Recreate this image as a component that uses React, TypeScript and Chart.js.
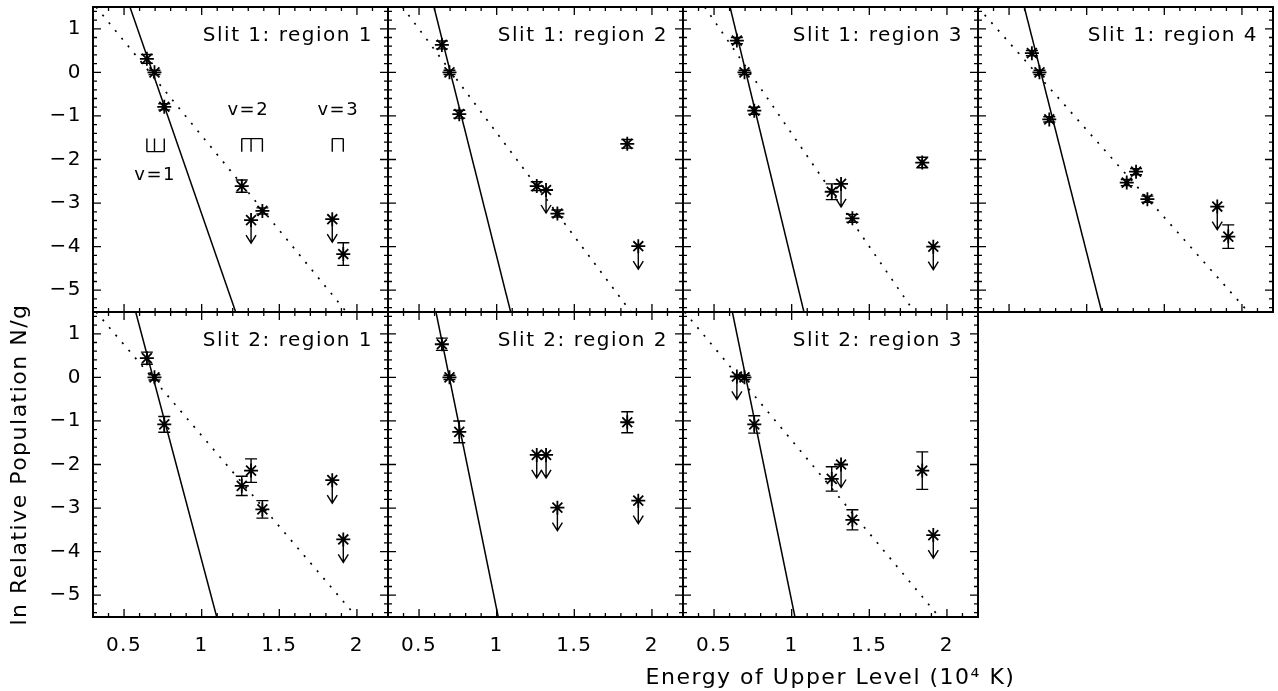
import React, { useEffect, useRef } from "react";
import { Chart, registerables } from "chart.js";

Chart.register(...registerables);
Chart.defaults.font.family = "'DejaVu Sans', sans-serif";
Chart.defaults.color = "#000";

// ---------- data ----------
// upper-level energies of the H2 lines (10^4 K)
const ENERGY = [0.647, 0.696, 0.759, 1.258, 1.318, 1.391, 1.841, 1.912];

const X_TICKS = [0.5, 1, 1.5, 2];
const Y_TICKS = [-5, -4, -3, -2, -1, 0, 1];
const X_MIN = 0.3;
const X_MAX = 2.2;
const Y_MIN = -5.5;
const Y_MAX = 1.5;

const PANEL_TITLES = [
  "Slit 1: region 1",
  "Slit 1: region 2",
  "Slit 1: region 3",
  "Slit 1: region 4",
  "Slit 2: region 1",
  "Slit 2: region 2",
  "Slit 2: region 3",
];

const X_TITLE = "Energy of Upper Level (10\u2074 K)";
const Y_TITLE = "ln Relative Population N/g";

// Slit 1 region 1
const LNPOP_S1R1 = [0.31, 0.0, -0.79, -2.61, -3.39, -3.18, -3.37, -4.17];
const ERR_S1R1 = [0.1, 0.05, 0.07, 0.14, 0, 0.07, 0, 0.26];
const UPLIM_S1R1 = [0, 0, 0, 0, 1, 0, 1, 0];
const SOLID_S1R1 = [{ x: 0.538, y: 1.5 }, { x: 1.219, y: -5.5 }];
const DOTTED_S1R1 = [{ x: 0.32, y: 1.5 }, { x: 1.932, y: -5.5 }];

// Slit 1 region 2
const LNPOP_S1R2 = [0.63, 0.0, -0.96, -2.61, -2.7, -3.24, -1.64, -3.99];
const ERR_S1R2 = [0.09, 0.05, 0.09, 0.1, 0, 0.08, 0.1, 0];
const UPLIM_S1R2 = [0, 0, 0, 0, 1, 0, 0, 1];
const SOLID_S1R2 = [{ x: 0.596, y: 1.5 }, { x: 1.09, y: -5.5 }];
const DOTTED_S1R2 = [{ x: 0.393, y: 1.5 }, { x: 1.865, y: -5.5 }];

// Slit 1 region 3
const LNPOP_S1R3 = [0.73, 0.0, -0.88, -2.74, -2.56, -3.35, -2.07, -4.0];
const ERR_S1R3 = [0.07, 0.05, 0.08, 0.18, 0, 0.09, 0.12, 0];
const UPLIM_S1R3 = [0, 0, 0, 0, 1, 0, 0, 1];
const SOLID_S1R3 = [{ x: 0.603, y: 1.5 }, { x: 1.079, y: -5.5 }];
const DOTTED_S1R3 = [{ x: 0.44, y: 1.5 }, { x: 1.79, y: -5.5 }];

// Slit 1 region 4
const LNPOP_S1R4 = [0.44, 0.0, -1.08, -2.53, -2.28, -2.91, -3.08, -3.77];
const ERR_S1R4 = [0.06, 0.05, 0.06, 0.07, 0.07, 0.07, 0, 0.27];
const UPLIM_S1R4 = [0, 0, 0, 0, 0, 0, 1, 0];
const SOLID_S1R4 = [{ x: 0.598, y: 1.5 }, { x: 1.097, y: -5.5 }];
const DOTTED_S1R4 = [{ x: 0.3, y: 1.49 }, { x: 2.041, y: -5.5 }];

// Slit 2 region 1
const LNPOP_S2R1 = [0.44, 0.0, -1.08, -2.49, -2.14, -3.03, -2.36, -3.72];
const ERR_S2R1 = [0.14, 0.06, 0.18, 0.22, 0.27, 0.2, 0, 0];
const UPLIM_S2R1 = [0, 0, 0, 0, 0, 0, 1, 1];
const SOLID_S2R1 = [{ x: 0.575, y: 1.5 }, { x: 1.097, y: -5.5 }];
const DOTTED_S2R1 = [{ x: 0.32, y: 1.5 }, { x: 1.998, y: -5.5 }];

// Slit 2 region 2
const LNPOP_S2R2 = [0.76, 0.0, -1.25, -1.78, -1.78, -2.99, -1.03, -2.83];
const ERR_S2R2 = [0.14, 0.05, 0.25, 0, 0, 0, 0.24, 0];
const UPLIM_S2R2 = [0, 0, 0, 1, 1, 1, 0, 1];
const SOLID_S2R2 = [{ x: 0.609, y: 1.5 }, { x: 1.01, y: -5.5 }];

// Slit 2 region 3
const LNPOP_S2R3 = [0.02, 0.0, -1.08, -2.33, -2.0, -3.27, -2.14, -3.62];
const ERR_S2R3 = [0, 0.05, 0.2, 0.28, 0, 0.23, 0.43, 0];
const UPLIM_S2R3 = [1, 0, 0, 0, 1, 0, 0, 1];
const SOLID_S2R3 = [{ x: 0.618, y: 1.5 }, { x: 1.021, y: -5.5 }];
const DOTTED_S2R3 = [{ x: 0.31, y: 1.5 }, { x: 1.95, y: -5.5 }];

// vibrational-level annotations (first panel)
const VIB_LABELS = ["v=1", "v=2", "v=3"];
const VIB_LABEL_X = [0.7, 1.3, 1.88];
const VIB_LABEL_Y = [-2.36, -0.86, -0.86];
const VIB_GROUPS = [[0, 1, 2], [3, 4, 5], [6, 7]];
const BRACKET_BASE = [-1.82, -1.52, -1.52];
const BRACKET_TIP = [-1.52, -1.82, -1.82];

// ---------- layout / style ----------
const CANVAS_W = 1278;
const CANVAS_H = 691;
const GRID_LEFT = 93;
const GRID_TOP = 7;
const PANEL_W = 295;
const PANEL_H = 305;
const Y_AXIS_W = 93;
const X_AXIS_H = 74;
const CAP = 6;
const ARROW_LEN = 23;
const ARROW_HALF = 5;
const ARROW_HEAD = 8;
const TEXT_SPACING = "1.5px";

type Pt = { x: number; y: number };
type PanelCfg = {
  title: string;
  y: number[];
  err: number[];
  lim: number[];
  solid: Pt[];
  dotted: Pt[] | null;
};

const PANELS: PanelCfg[] = [
  { title: PANEL_TITLES[0], y: LNPOP_S1R1, err: ERR_S1R1, lim: UPLIM_S1R1, solid: SOLID_S1R1, dotted: DOTTED_S1R1 },
  { title: PANEL_TITLES[1], y: LNPOP_S1R2, err: ERR_S1R2, lim: UPLIM_S1R2, solid: SOLID_S1R2, dotted: DOTTED_S1R2 },
  { title: PANEL_TITLES[2], y: LNPOP_S1R3, err: ERR_S1R3, lim: UPLIM_S1R3, solid: SOLID_S1R3, dotted: DOTTED_S1R3 },
  { title: PANEL_TITLES[3], y: LNPOP_S1R4, err: ERR_S1R4, lim: UPLIM_S1R4, solid: SOLID_S1R4, dotted: DOTTED_S1R4 },
  { title: PANEL_TITLES[4], y: LNPOP_S2R1, err: ERR_S2R1, lim: UPLIM_S2R1, solid: SOLID_S2R1, dotted: DOTTED_S2R1 },
  { title: PANEL_TITLES[5], y: LNPOP_S2R2, err: ERR_S2R2, lim: UPLIM_S2R2, solid: SOLID_S2R2, dotted: null },
  { title: PANEL_TITLES[6], y: LNPOP_S2R3, err: ERR_S2R3, lim: UPLIM_S2R3, solid: SOLID_S2R3, dotted: DOTTED_S2R3 },
];

function makeDecor(panel: PanelCfg, index: number) {
  return {
    id: "decor" + index,
    beforeDraw(chart: any) {
      chart.ctx.letterSpacing = TEXT_SPACING;
    },
    afterDatasetsDraw(chart: any) {
      const ctx: CanvasRenderingContext2D = chart.ctx;
      const { left, right, top, bottom } = chart.chartArea;
      const xs = chart.scales.x;
      const ys = chart.scales.y;
      ctx.save();
      (ctx as any).letterSpacing = TEXT_SPACING;
      ctx.strokeStyle = "#000";
      ctx.fillStyle = "#000";
      ctx.lineWidth = 1.4;

      // error bars and upper limits
      ENERGY.forEach((e, i) => {
        const px = xs.getPixelForValue(e);
        const v = panel.y[i];
        ctx.beginPath();
        if (panel.lim[i]) {
          const py = ys.getPixelForValue(v);
          const tip = py + ARROW_LEN;
          ctx.moveTo(px, py);
          ctx.lineTo(px, tip);
          ctx.moveTo(px - ARROW_HALF, tip - ARROW_HEAD);
          ctx.lineTo(px, tip);
          ctx.lineTo(px + ARROW_HALF, tip - ARROW_HEAD);
        } else if (panel.err[i] > 0) {
          const y1 = ys.getPixelForValue(v + panel.err[i]);
          const y2 = ys.getPixelForValue(v - panel.err[i]);
          ctx.moveTo(px, y1);
          ctx.lineTo(px, y2);
          ctx.moveTo(px - CAP, y1);
          ctx.lineTo(px + CAP, y1);
          ctx.moveTo(px - CAP, y2);
          ctx.lineTo(px + CAP, y2);
        }
        ctx.stroke();
      });

      // vibrational level brackets and labels
      if (index === 0) {
        VIB_GROUPS.forEach((g, k) => {
          const pxs = g.map((i) => xs.getPixelForValue(ENERGY[i]));
          const yb = ys.getPixelForValue(BRACKET_BASE[k]);
          const yt = ys.getPixelForValue(BRACKET_TIP[k]);
          ctx.beginPath();
          ctx.moveTo(Math.min(...pxs), yb);
          ctx.lineTo(Math.max(...pxs), yb);
          pxs.forEach((p) => {
            ctx.moveTo(p, yb);
            ctx.lineTo(p, yt);
          });
          ctx.stroke();
        });
        ctx.font = "18px 'DejaVu Sans'";
        ctx.textAlign = "center";
        ctx.textBaseline = "middle";
        VIB_LABELS.forEach((t, k) => {
          ctx.fillText(t, xs.getPixelForValue(VIB_LABEL_X[k]), ys.getPixelForValue(VIB_LABEL_Y[k]));
        });
      }

      // frame
      ctx.lineWidth = 2;
      ctx.strokeRect(left, top, right - left, bottom - top);

      // inward ticks on all four sides
      ctx.lineWidth = 1.3;
      ctx.beginPath();
      for (let k = 3; k <= 22; k++) {
        const px = xs.getPixelForValue(k / 10);
        const len = k % 5 === 0 ? 8 : 4;
        ctx.moveTo(px, bottom);
        ctx.lineTo(px, bottom - len);
        ctx.moveTo(px, top);
        ctx.lineTo(px, top + len);
      }
      for (let k = -27; k <= 7; k++) {
        const py = ys.getPixelForValue(k / 5);
        const len = k % 5 === 0 ? 8 : 4;
        ctx.moveTo(left, py);
        ctx.lineTo(left + len, py);
        ctx.moveTo(right, py);
        ctx.lineTo(right - len, py);
      }
      ctx.stroke();

      // panel title
      ctx.font = "20px 'DejaVu Sans'";
      ctx.textAlign = "right";
      ctx.textBaseline = "middle";
      ctx.fillText(panel.title, right - 15, top + 29);

      // axis titles (x on the last bottom panel, y on the bottom-left panel)
      ctx.font = "22px 'DejaVu Sans'";
      ctx.textAlign = "center";
      ctx.textBaseline = "middle";
      if (index === 6) {
        ctx.fillText(X_TITLE, (left + right) / 2, bottom + 61);
      }
      if (index === 4) {
        ctx.save();
        ctx.translate(20, (top + bottom) / 2);
        ctx.rotate(-Math.PI / 2);
        ctx.fillText(Y_TITLE, 0, 0);
        ctx.restore();
      }
      ctx.restore();
    },
  };
}

function Panel({ panel, index }: { panel: PanelCfg; index: number }) {
  const ref = useRef<HTMLCanvasElement>(null);
  useEffect(() => {
    const col = index % 4;
    const row = Math.floor(index / 4);
    const L = GRID_LEFT + col * PANEL_W;
    const T = GRID_TOP + row * PANEL_H;
    const showY = col === 0;
    const showX = row === 1;
    const datasets: any[] = [
      {
        type: "scatter",
        data: ENERGY.map((x, i) => ({ x, y: panel.y[i] })),
        pointStyle: "star",
        pointRadius: 7,
        pointBorderWidth: 1.8,
        pointBorderColor: "#000",
        pointBackgroundColor: "#000",
        borderColor: "#000",
      },
      {
        type: "line",
        data: panel.solid,
        borderColor: "#000",
        borderWidth: 1.5,
        pointRadius: 0,
        fill: false,
      },
    ];
    if (panel.dotted) {
      datasets.push({
        type: "line",
        data: panel.dotted,
        borderColor: "#000",
        borderWidth: 1.7,
        borderDash: [2, 8],
        pointRadius: 0,
        fill: false,
      });
    }
    const chart = new Chart(ref.current as HTMLCanvasElement, {
      type: "scatter",
      data: { datasets },
      options: {
        responsive: false,
        animation: false,
        devicePixelRatio: 1,
        events: [],
        layout: {
          autoPadding: false,
          padding: {
            left: showY ? L - Y_AXIS_W : L,
            top: T,
            right: CANVAS_W - (L + PANEL_W),
            bottom: showX ? CANVAS_H - (T + PANEL_H) - X_AXIS_H : CANVAS_H - (T + PANEL_H),
          },
        },
        plugins: { legend: { display: false }, tooltip: { enabled: false }, title: { display: false } },
        scales: {
          x: {
            type: "linear",
            min: X_MIN,
            max: X_MAX,
            display: showX,
            grid: { display: false, drawTicks: false, tickLength: 0 },
            border: { display: false },
            afterBuildTicks: (axis: any) => {
              axis.ticks = X_TICKS.map((v) => ({ value: v }));
            },
            afterFit: (axis: any) => {
              if (showX) axis.height = X_AXIS_H;
              axis.paddingLeft = 0;
              axis.paddingRight = 0;
              axis.paddingTop = 0;
              axis.paddingBottom = 0;
            },
            ticks: {
              autoSkip: false,
              maxRotation: 0,
              padding: 17,
              color: "#000",
              font: { size: 20 },
              callback: (v: any) => String(v),
            },
          },
          y: {
            type: "linear",
            min: Y_MIN,
            max: Y_MAX,
            display: showY,
            grid: { display: false, drawTicks: false, tickLength: 0 },
            border: { display: false },
            afterBuildTicks: (axis: any) => {
              axis.ticks = Y_TICKS.map((v) => ({ value: v }));
            },
            afterFit: (axis: any) => {
              if (showY) axis.width = Y_AXIS_W;
              axis.paddingLeft = 0;
              axis.paddingRight = 0;
              axis.paddingTop = 0;
              axis.paddingBottom = 0;
            },
            ticks: {
              autoSkip: false,
              padding: 11,
              color: "#000",
              font: { size: 20 },
              callback: (v: any) => (v < 0 ? "\u2212" + Math.abs(v) : String(v)),
            },
          },
        },
      } as any,
      plugins: [makeDecor(panel, index)],
    });
    return () => chart.destroy();
  }, [panel, index]);
  return (
    <canvas
      ref={ref}
      width={CANVAS_W}
      height={CANVAS_H}
      style={{ position: "absolute", left: 0, top: 0 }}
    />
  );
}

export default function App() {
  return (
    <div
      style={{
        position: "absolute",
        left: 0,
        top: 0,
        width: CANVAS_W,
        height: CANVAS_H,
        background: "#fff",
      }}
    >
      {PANELS.map((p, i) => (
        <Panel key={i} panel={p} index={i} />
      ))}
    </div>
  );
}
